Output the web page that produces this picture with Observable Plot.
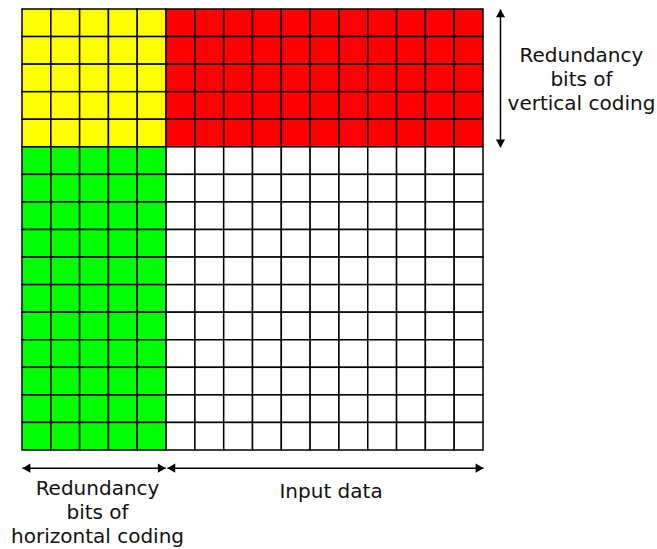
<!DOCTYPE html>
<html>
<head>
<meta charset="utf-8">
<script src="https://cdn.jsdelivr.net/npm/d3@7"></script>
<script src="https://cdn.jsdelivr.net/npm/@observablehq/plot@0.6"></script>
<style>
  html, body { margin: 0; padding: 0; background: #fff; }
  #chart svg { display: block; }
</style>
</head>
<body>
<div id="chart"></div>
<script>
// ---- data ----
const nCols = 16;            // total columns of the block
const nRows = 16;            // total rows of the block
const parityCols = 5;        // redundancy columns (horizontal coding)
const parityRows = 5;        // redundancy rows (vertical coding)
const regions = ["corner", "vertical", "horizontal", "data"];
const regionColors = ["#ffff00", "#ff0000", "#00ff00", "#ffffff"];
const labelVertical = "Redundancy\nbits of\nvertical coding";
const labelHorizontal = "Redundancy\nbits of\nhorizontal coding";
const labelInput = "Input data";

// ---- build cells ----
const cells = [];
for (let r = 0; r < nRows; r++) {
  for (let c = 0; c < nCols; c++) {
    const region = r < parityRows
      ? (c < parityCols ? "corner" : "vertical")
      : (c < parityCols ? "horizontal" : "data");
    cells.push({row: r, col: c, region});
  }
}

// arrows (double headed) in grid units
const arrowV = nCols + 0.59;   // x of vertical arrow
const arrowH = nRows + 0.64;   // y of horizontal arrows
const shafts = [
  {x1: arrowV, y1: 0, x2: arrowV, y2: parityRows},
  {x1: 0, y1: arrowH, x2: parityCols - 0.03, y2: arrowH},
  {x1: parityCols + 0.03, y1: arrowH, x2: nCols, y2: arrowH}
];
const heads = [
  {x: arrowV, y: 0, dir: "up"},
  {x: arrowV, y: parityRows, dir: "down"},
  {x: 0, y: arrowH, dir: "left"},
  {x: parityCols - 0.03, y: arrowH, dir: "right"},
  {x: parityCols + 0.03, y: arrowH, dir: "left"},
  {x: nCols, y: arrowH, dir: "right"}
];
const tip = 5.2;
const headSpec = {
  up: {rotate: 0, dx: 0, dy: tip},
  down: {rotate: 180, dx: 0, dy: -tip},
  left: {rotate: -90, dx: tip, dy: 0},
  right: {rotate: 90, dx: -tip, dy: 0}
};

const chart = Plot.plot({
  width: 657,
  height: 549,
  margin: 0,
  x: {domain: [0, nCols], range: [22, 483], axis: null},
  y: {domain: [0, nRows], range: [9, 450], axis: null},
  color: {domain: regions, range: regionColors},
  style: {fontFamily: "'DejaVu Sans', sans-serif", background: "#fff", overflow: "visible"},
  marks: [
    Plot.rect(cells, {
      x1: "col", x2: d => d.col + 1,
      y1: "row", y2: d => d.row + 1,
      fill: "region",
      stroke: "#000",
      strokeWidth: 1.5
    }),
    Plot.link(shafts, {x1: "x1", y1: "y1", x2: "x2", y2: "y2", stroke: "#000", strokeWidth: 1.5}),
    ...Object.entries(headSpec).map(([dir, s]) =>
      Plot.dot(heads.filter(h => h.dir === dir), {
        x: "x", y: "y", symbol: "triangle", r: 3.4,
        fill: "#000", stroke: null, rotate: s.rotate, dx: s.dx, dy: s.dy
      })
    ),
    Plot.text([labelVertical], {
      x: nCols + 3.4, y: parityRows / 2, text: d => d,
      fontSize: 20, lineHeight: 1.2, fill: "#111", textAnchor: "middle"
    }),
    Plot.text([labelHorizontal], {
      x: parityCols / 2, y: nRows + 2.2, dx: 3, text: d => d,
      fontSize: 20, lineHeight: 1.2, fill: "#111", textAnchor: "middle"
    }),
    Plot.text([labelInput], {
      x: (parityCols + nCols) / 2, y: nRows + 1.5, dx: 6, text: d => d,
      fontSize: 20, fill: "#111", textAnchor: "middle"
    })
  ]
});
document.getElementById("chart").append(chart);
</script>
</body>
</html>
